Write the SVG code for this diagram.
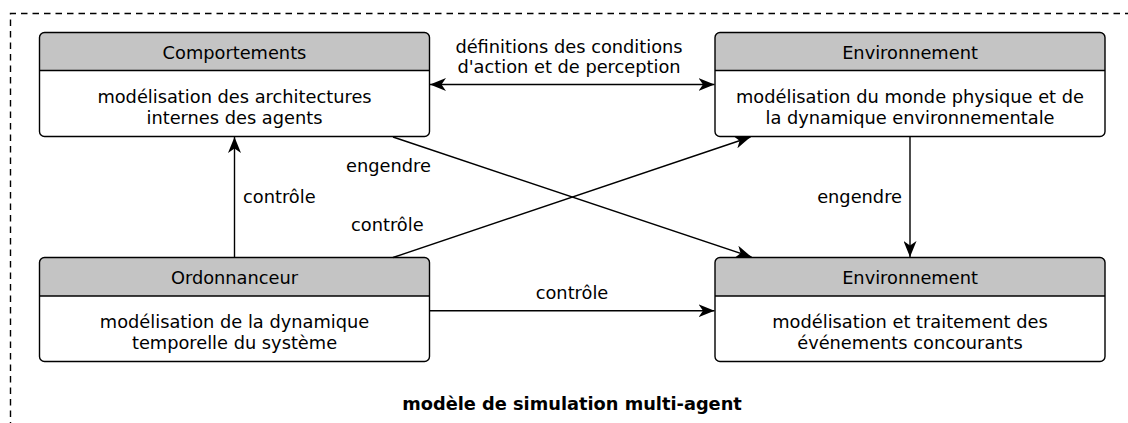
<svg xmlns="http://www.w3.org/2000/svg" width="1128" height="423" viewBox="0 0 1128 423">
<style>
text{font-family:"DejaVu Sans","Liberation Sans",sans-serif;font-size:17.8px;fill:#000}
.c{text-anchor:middle}
.e{text-anchor:end}
.b{font-weight:bold}
.box{fill:none;stroke:#000;stroke-width:1.4}
.hd{fill:#c4c4c4}
.bg{fill:#fff}
.ln{fill:none;stroke:#000;stroke-width:1.4}
.frame{fill:none;stroke:#000;stroke-width:1.4;stroke-dasharray:6.5 5}
</style>
<defs>
<marker id="ah" viewBox="0 0 16 13" refX="16" refY="6.5" markerWidth="16" markerHeight="13" markerUnits="userSpaceOnUse" orient="auto-start-reverse">
<path d="M0,0 L16,6.5 L0,13 L4.5,6.5 Z" fill="#000"/>
</marker>
</defs>
<path class="frame" d="M10.5,1130 V13.5 H1140"/>
<g id="comportements">
<rect class="bg" x="39.5" y="32.5" width="390" height="104" rx="5"/>
<path class="hd" d="M39.5,70.5 V37.5 A5,5 0 0 1 44.5,32.5 H424.5 A5,5 0 0 1 429.5,37.5 V70.5 Z"/>
<rect class="box" x="39.5" y="32.5" width="390" height="104" rx="5"/>
<line class="ln" x1="39.5" y1="70.5" x2="429.5" y2="70.5"/>
<text class="c" x="234.5" y="58.5">Comportements</text>
<text class="c" x="234.5" y="103">modélisation des architectures</text>
<text class="c" x="234.5" y="123.5">internes des agents</text>
</g>
<g id="environnement1">
<rect class="bg" x="715" y="32.5" width="390" height="104" rx="5"/>
<path class="hd" d="M715,70.5 V37.5 A5,5 0 0 1 720,32.5 H1100 A5,5 0 0 1 1105,37.5 V70.5 Z"/>
<rect class="box" x="715" y="32.5" width="390" height="104" rx="5"/>
<line class="ln" x1="715" y1="70.5" x2="1105" y2="70.5"/>
<text class="c" x="910" y="58.5">Environnement</text>
<text class="c" x="910" y="103">modélisation du monde physique et de</text>
<text class="c" x="910" y="123.5">la dynamique environnementale</text>
</g>
<g id="ordonnanceur">
<rect class="bg" x="39.5" y="257.5" width="390" height="104" rx="5"/>
<path class="hd" d="M39.5,296 V262.5 A5,5 0 0 1 44.5,257.5 H424.5 A5,5 0 0 1 429.5,262.5 V296 Z"/>
<rect class="box" x="39.5" y="257.5" width="390" height="104" rx="5"/>
<line class="ln" x1="39.5" y1="296" x2="429.5" y2="296"/>
<text class="c" x="234.5" y="283.5">Ordonnanceur</text>
<text class="c" x="234.5" y="328">modélisation de la dynamique</text>
<text class="c" x="234.5" y="348.5">temporelle du système</text>
</g>
<g id="environnement2">
<rect class="bg" x="715" y="257.5" width="390" height="104" rx="5"/>
<path class="hd" d="M715,296 V262.5 A5,5 0 0 1 720,257.5 H1100 A5,5 0 0 1 1105,262.5 V296 Z"/>
<rect class="box" x="715" y="257.5" width="390" height="104" rx="5"/>
<line class="ln" x1="715" y1="296" x2="1105" y2="296"/>
<text class="c" x="910" y="283.5">Environnement</text>
<text class="c" x="910" y="328">modélisation et traitement des</text>
<text class="c" x="910" y="348.5">événements concourants</text>
</g>
<g id="connectors">
<line class="ln" x1="430" y1="84.5" x2="714.5" y2="84.5" marker-start="url(#ah)" marker-end="url(#ah)"/>
<line class="ln" x1="234.5" y1="257.5" x2="234.5" y2="137" marker-end="url(#ah)"/>
<line class="ln" x1="393" y1="137" x2="751.5" y2="257" marker-end="url(#ah)"/>
<line class="ln" x1="393" y1="257.5" x2="750.5" y2="137" marker-end="url(#ah)"/>
<line class="ln" x1="910" y1="137" x2="910" y2="257" marker-end="url(#ah)"/>
<line class="ln" x1="430" y1="310.7" x2="714.5" y2="310.7" marker-end="url(#ah)"/>
<text class="c" x="569" y="53">définitions des conditions</text>
<text class="c" x="569" y="73">d'action et de perception</text>
<text x="243" y="203">contrôle</text>
<text x="346" y="172">engendre</text>
<text x="351" y="231">contrôle</text>
<text class="e" x="902" y="203">engendre</text>
<text class="c" x="572" y="299">contrôle</text>
</g>
<text class="c b" x="572" y="410">modèle de simulation multi-agent</text>
</svg>
